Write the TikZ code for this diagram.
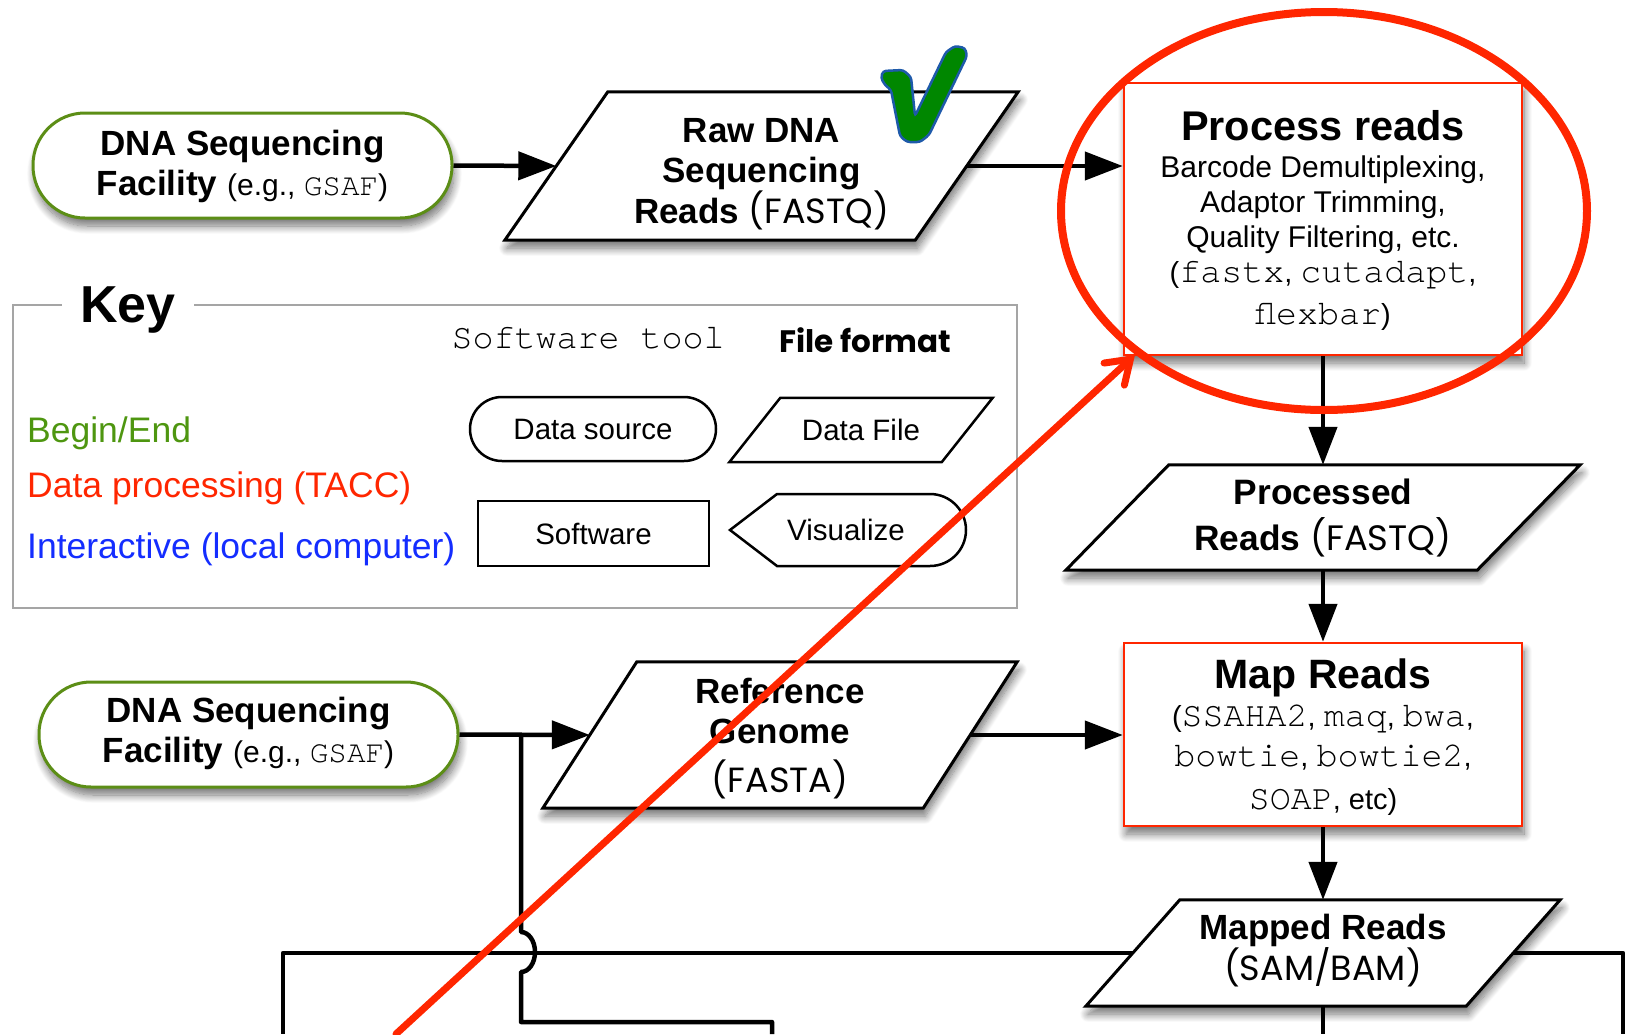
\documentclass[tikz,border=0pt]{standalone}
\usepackage{fontspec}
\setmainfont{Liberation Sans}
\setmonofont{TeX Gyre Cursor}
\newfontfamily\futfont{Poppins}
\usetikzlibrary{arrows.meta,backgrounds,shadows.blur}
\definecolor{pillgreen}{RGB}{92,142,22}
\definecolor{keygreen}{RGB}{78,150,16}
\definecolor{mkred}{RGB}{255,38,0}
\definecolor{keyblue}{RGB}{20,45,255}
\definecolor{chkgreen}{RGB}{0,135,0}
\definecolor{chkblue}{RGB}{30,90,170}
\definecolor{keygray}{RGB}{165,165,165}
\newcommand{\fsz}[2]{\fontsize{#1pt}{#2pt}\selectfont}
\newcommand{\strutup}[1]{\rule{0pt}{#1pt}}
\newcommand{\strutdn}[1]{\rule[-#1pt]{0pt}{0pt}}
\newcommand{\mono}[1]{{\fsz{35}{35}\ttfamily #1}}
\newcommand{\paraoutline}[2]{\draw[outl, fill=white, softshadow] ([xshift=#2]#1.north west) -- ([xshift=#2]#1.north east) -- ([xshift=-#2]#1.south east) -- ([xshift=-#2]#1.south west) -- cycle;}
\newcommand{\keypara}[2]{\draw[keyoutl, fill=white] ([xshift=#2]#1.north west) -- ([xshift=#2]#1.north east) -- ([xshift=-#2]#1.south east) -- ([xshift=-#2]#1.south west) -- cycle;}
\begin{document}
\begin{tikzpicture}[x=1pt,y=-1pt,
  softshadow/.style={blur shadow={shadow xshift=2pt,shadow yshift=-8pt,shadow blur radius=8pt,shadow blur steps=12,shadow opacity=55}},
  outl/.style={draw=black,line width=3pt,line join=miter},
  keyoutl/.style={draw=black,line width=2.5pt,line join=miter},
  pill/.style={softshadow, draw=pillgreen, line width=3pt, fill=white, rounded corners=52pt,
    minimum width=419pt, minimum height=105pt, inner sep=0pt, align=center, font=\fsz{35}{40}\bfseries},
  redbox/.style={softshadow, draw=mkred, line width=2.5pt, fill=white, minimum width=398pt, inner sep=0pt, align=center},
  para/.style={inner sep=0pt, align=center},
  conn/.style={line width=4.5pt, -{Triangle[length=38pt,width=28pt]}},
  wire/.style={line width=4.5pt, line join=round},
  keytxt/.style={anchor=base west, inner sep=0pt, font=\fsz{35.5}{40}},
  keyshape/.style={font=\fsz{29.5}{34}, inner sep=0pt}
]
\useasboundingbox (0,0) rectangle (1626,1034);
\clip (0,0) rectangle (1626,1034);

% ---------- main flow nodes ----------
\node[pill] (src1) at (242.5,165.5) {\strutup{28}DNA Sequencing\\ Facility {\mdseries\fsz{30}{40}(e.g., {\fsz{31}{40}\ttfamily GSAF})}\strutdn{9}};
\node[pill] (src2) at (248.5,734.5) {\strutup{26}DNA Sequencing\\ Facility {\mdseries\fsz{30}{40}(e.g., {\fsz{31}{40}\ttfamily GSAF})}\strutdn{10}};

\node[para, minimum width=410pt, minimum height=148pt, font=\fsz{35}{40}\bfseries] (raw) at (761.5,166)
  {\strutup{40}Raw DNA\\Sequencing\\Reads {\mdseries\futfont (FASTQ)}\strutdn{6}};

\node[redbox, minimum height=272pt, font=\fsz{30}{35}] (proc) at (1323,219)
  {\strutup{37}{\fsz{41.5}{35}\bfseries Process reads}\\[2pt]
   Barcode Demultiplexing,\\
   Adaptor Trimming,\\
   Quality Filtering, etc.\\
   {\fsz{29}{35}(\mono{fastx}, \mono{cutadapt},}\\[7pt]
   {\fsz{29}{35}\mono{flexbar})}\strutdn{10}};

\node[para, minimum width=411pt, minimum height=105pt, font=\fsz{35.3}{46}\bfseries] (procd) at (1323,517.5)
  {\strutup{30}Processed\\Reads {\mdseries\futfont (FASTQ)}\strutdn{11}};

\node[redbox, minimum height=183pt, font=\fsz{29}{40}] (map) at (1323,734.5)
  {\strutup{38}{\fsz{41}{40}\bfseries Map Reads}\\[-2pt]
   (\mono{SSAHA2}, \mono{maq}, \mono{bwa},\\
   \mono{bowtie}, \mono{bowtie2},\\[3pt]
   \mono{SOAP}, etc)\strutdn{10}};

\node[para, minimum width=380pt, minimum height=106pt, font=\fsz{35}{40}\bfseries] (mapped) at (1323,953)
  {\strutup{26}Mapped Reads\\{\mdseries\futfont (SAM/BAM)}\strutdn{12}};

\node[para, minimum width=380pt, minimum height=146pt, font=\fsz{35}{40}\bfseries] (ref) at (780,735)
  {\strutup{35}Reference\\Genome\\[9pt]{\mdseries\futfont (FASTA)}\strutdn{10}};

% ---------- key ----------
\draw[keygray, line width=2.5pt] (13,305) rectangle (1017,608);
\node[fill=white, inner xsep=18pt, inner ysep=4pt, anchor=base, font=\fsz{52}{52}\bfseries] (keylbl) at (128,322) {Key};
\node[anchor=base, inner sep=0pt, font=\fsz{35}{40}\ttfamily] (swtool) at (588,348) {Software tool};
\node[anchor=base, inner sep=0pt, font=\fsz{31}{40}\futfont\bfseries] (ffmt) at (865,352) {File format};
\node[keytxt, text=keygreen] (kbegin) at (27,442) {Begin/End};
\node[keytxt, text=mkred] (kproc) at (27,497) {Data processing (TACC)};
\node[keytxt, text=keyblue] (kinter) at (27,558) {Interactive (local computer)};
\node[keyshape, draw, line width=2.5pt, rounded corners=32pt, minimum width=246pt, minimum height=64pt] (ksrc) at (593,429) {Data source};
\node[keyshape, draw, line width=2.5pt, minimum width=231pt, minimum height=65pt] (ksw) at (593.5,533.5) {Software};
\node[keyshape, minimum width=212pt, minimum height=64pt] (kfile) at (861,430) {Data File};
\node[keyshape] (kvis) at (846,530) {Visualize};

% ---------- shape outlines on background ----------
\begin{scope}[on background layer]
  \paraoutline{raw}{51.5pt}
  \paraoutline{procd}{51.5pt}
  \paraoutline{mapped}{47pt}
  \paraoutline{ref}{47pt}
  \keypara{kfile}{25.5pt}
  \draw[keyoutl, fill=white] (777,494) -- (930,494) arc[start angle=-90,end angle=90,radius=36] -- (777,566) -- (730,530) -- cycle;
\end{scope}

% ---------- connectors ----------
\draw[conn] (src1.east) -- (raw.west);
\draw[conn] (raw.east) -- (raw.east -| proc.west);
\draw[conn] (proc.south) -- (procd.north);
\draw[conn] (procd.south) -- (map.north);
\draw[conn] (map.south) -- (mapped.north);
\draw[conn] (ref.east) -- (ref.east -| map.west);
\draw[conn] (src2.east) -- (ref.west);

\coordinate (j1) at (521,734.5);
\coordinate (jbot) at (521,1022);
\coordinate (e1) at (772,1034);
\coordinate (e2) at (283,1034);
\coordinate (e3) at (1623,1034);
\coordinate (e4) at (1323,1034);
\draw[wire] (j1) -- (521,932) arc[start angle=-90,end angle=90,x radius=14,y radius=20] -- (jbot) -- (jbot -| e1) -- (e1);
\draw[wire] (mapped.west) -- (mapped.west -| e2) -- (e2);
\draw[wire] (mapped.east) -- (mapped.east -| e3) -- (e3);
\draw[wire] (mapped.south) -- (e4);

% ---------- check mark ----------
\draw[fill=chkgreen, draw=chkblue, line width=2.5pt, rounded corners=3pt]
  (883,71) -- (903,70) -- (911,77) -- (915,116) -- (946,52) -- (955,46) -- (965,48) -- (967,56)
  -- (929,135) -- (920,142) -- (907,142) -- (900,136) -- (891,90) -- (885,85) -- (881,78) -- cycle;

% ---------- red annotation ----------
\draw[mkred, line width=8pt] (1324,211) ellipse [x radius=263, y radius=199];
\coordinate (redstart) at (396,1034);
\coordinate (redtip) at (1135,355);
\draw[mkred, line width=7pt, line cap=round, -{Straight Barb[length=22pt,width=30pt,line cap=round]}] (redstart) -- (redtip);
\end{tikzpicture}
\end{document}
